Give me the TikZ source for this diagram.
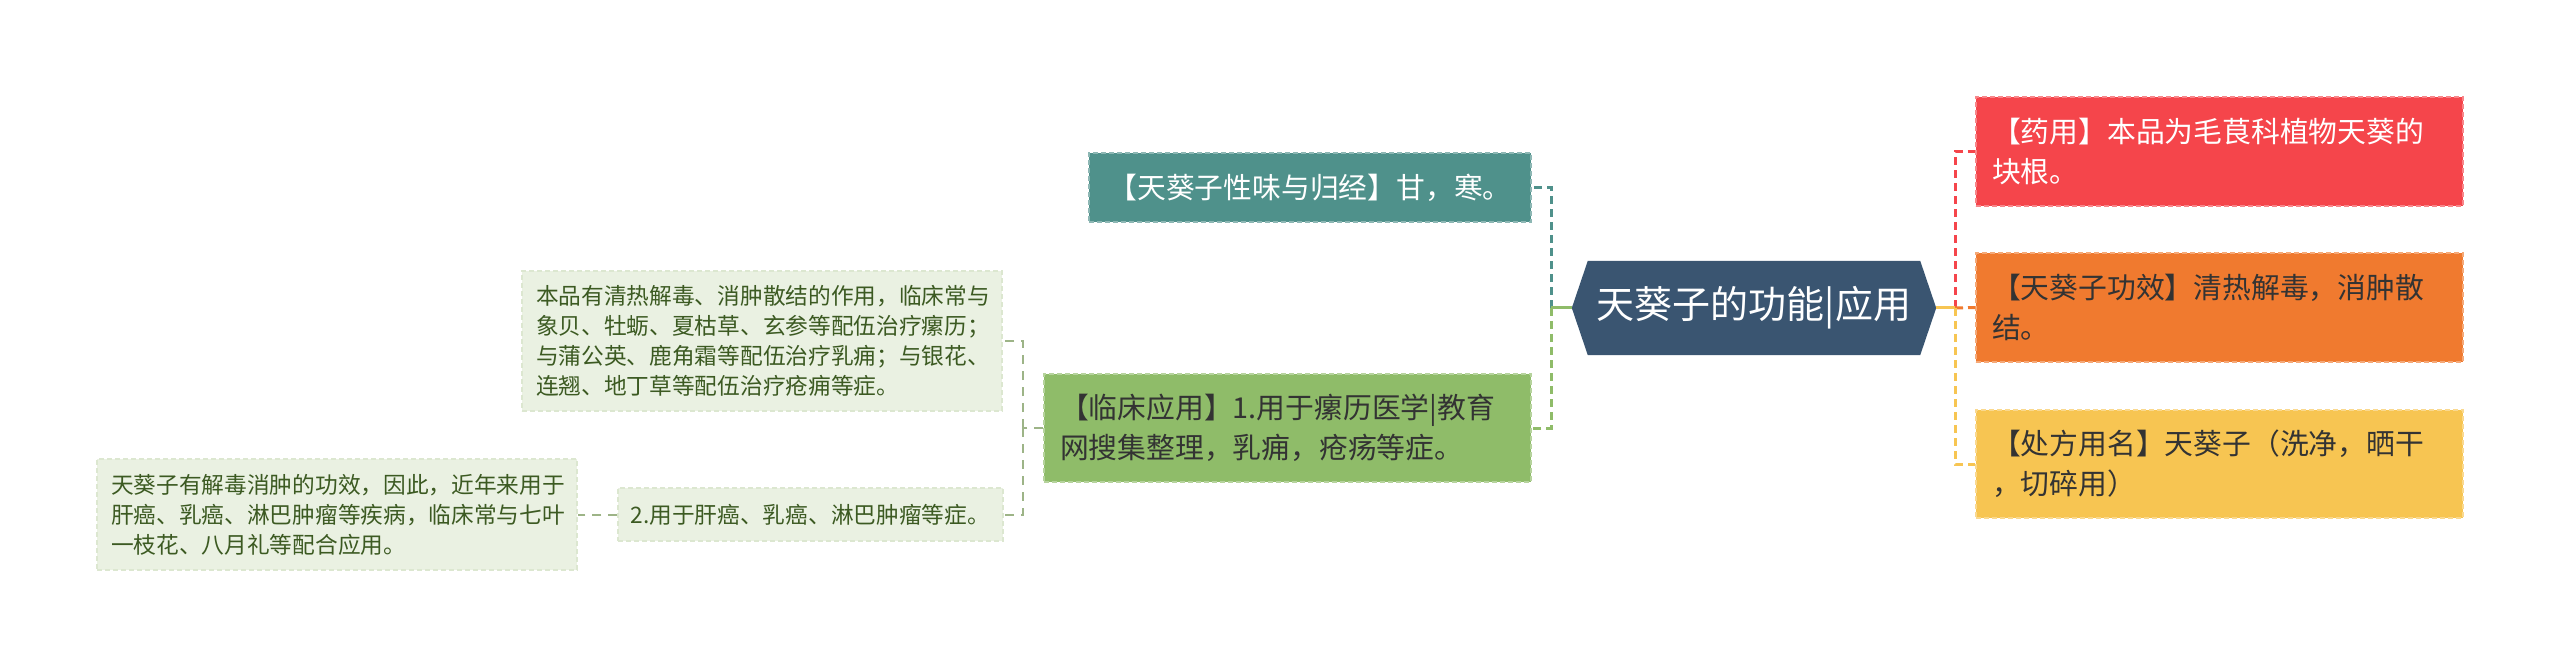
\documentclass[tikz,border=0pt]{standalone}
\usepackage{fontspec}
\setmainfont{Noto Sans CJK SC}
\usetikzlibrary{backgrounds}
\definecolor{rootblue}{HTML}{3A5571}
\definecolor{cred}{HTML}{F5454B}
\definecolor{corange}{HTML}{F07A2F}
\definecolor{cyellow}{HTML}{F7C552}
\definecolor{cteal}{HTML}{4F918B}
\definecolor{cgreen}{HTML}{8FBC69}
\definecolor{clight}{HTML}{EAF1E2}
\definecolor{clightb}{HTML}{DCE7D0}
\definecolor{cdark}{HTML}{3C5A22}
\definecolor{cline}{HTML}{9DB487}
\definecolor{ctxt}{HTML}{333333}
\tikzset{
  box/.style={rectangle, inner xsep=16pt, inner ysep=0pt, align=left,
    line width=1.5pt, dash pattern=on 5pt off 3pt},
  bigfont/.style={font=\fontsize{28.8}{40}\selectfont},
  smallfont/.style={font=\fontsize{22.7}{30}\selectfont},
  conn/.style={line width=3pt, dash pattern=on 8pt off 5pt},
  cconn/.style={line width=2pt, dash pattern=on 9pt off 7pt, draw=cline},
  stub/.style={line width=3pt},
}
\begin{document}
\begin{tikzpicture}[x=1pt,y=-1pt]
\useasboundingbox (0,0) rectangle (2560,668);

% root
\node[rectangle, minimum width=364pt, minimum height=94pt, inner sep=0pt,
      text=white, font=\fontsize{38}{46}\selectfont] (root) at (1754,308) {天葵子的功能|应用};
\begin{scope}[on background layer]
\fill[white] (0,0) rectangle (2560,668);
\fill[rootblue] (root.west) -- ([xshift=16pt]root.north west) -- ([xshift=-16pt]root.north east)
  -- (root.east) -- ([xshift=-16pt]root.south east) -- ([xshift=16pt]root.south west) -- cycle;
\end{scope}

% right side
\node[box, bigfont, fill=cred, draw=cred!65!white, text=white, text width=455pt, minimum height=109pt]
  (red) at (2219.5,151.5) {【药用】本品为毛茛科植物天葵的\\块根。};
\node[box, bigfont, fill=corange, draw=corange!65!white, text=ctxt, text width=455pt, minimum height=109pt]
  (orange) at (2219.5,307.5) {【天葵子功效】清热解毒，消肿散\\结。};
\node[box, bigfont, fill=cyellow, draw=cyellow!65!white, text=ctxt, text width=455pt, minimum height=108pt]
  (yellow) at (2219.5,464) {【处方用名】天葵子（洗净，晒干\\，切碎用）};

% left side
\node[box, bigfont, fill=cteal, draw=cteal!65!white, text=white, text width=410pt, align=center, minimum height=69pt]
  (teal) at (1310,187.5) {【天葵子性味与归经】甘，寒。};
\node[box, bigfont, fill=cgreen, draw=cgreen!65!white, text=ctxt, text width=455pt, minimum height=108pt]
  (green) at (1287.5,428) {【临床应用】1.用于瘰历医学|教育\\网搜集整理，乳痈，疮疡等症。};

\node[box, smallfont, fill=clight, draw=clightb, text=cdark, inner xsep=14pt, text width=452pt, minimum height=140pt]
  (c1) at (762,341) {本品有清热解毒、消肿散结的作用，临床常与\\象贝、牡蛎、夏枯草、玄参等配伍治疗瘰历；\\与蒲公英、鹿角霜等配伍治疗乳痈；与银花、\\连翘、地丁草等配伍治疗疮痈等症。};
\node[box, smallfont, fill=clight, draw=clightb, text=cdark, inner xsep=12.5pt, text width=360pt, minimum height=53pt]
  (c2) at (810.5,514.5) {2.用于肝癌、乳癌、淋巴肿瘤等症。};
\node[box, smallfont, fill=clight, draw=clightb, text=cdark, inner xsep=14pt, text width=452pt, minimum height=111pt]
  (gc) at (337,514.5) {天葵子有解毒消肿的功效，因此，近年来用于\\肝癌、乳癌、淋巴肿瘤等疾病，临床常与七叶\\一枝花、八月礼等配合应用。};

% junctions
\coordinate (jR) at (1955,308);
\coordinate (jL) at (1551,308);
\coordinate (jC) at (1023,428);

% connectors right
\draw[conn, draw=cred] (jR) |- (red.west);
\draw[conn, draw=corange] (jR) -- (orange.west);
\draw[conn, draw=cyellow] (jR) |- (yellow.west);
\draw[stub, draw=cyellow] (root.east) -- (jR);

% connectors left
\draw[conn, draw=cteal] (jL) |- (teal.east);
\draw[conn, draw=cgreen] (jL) |- (green.east);
\draw[stub, draw=cgreen] (root.west) -- (jL);

\draw[cconn] (green.west) -- (jC);
\draw[cconn] (jC) |- (c1.east);
\draw[cconn] (jC) |- (c2.east);
\draw[cconn] (c2.west) -- (gc.east);
\end{tikzpicture}
\end{document}
